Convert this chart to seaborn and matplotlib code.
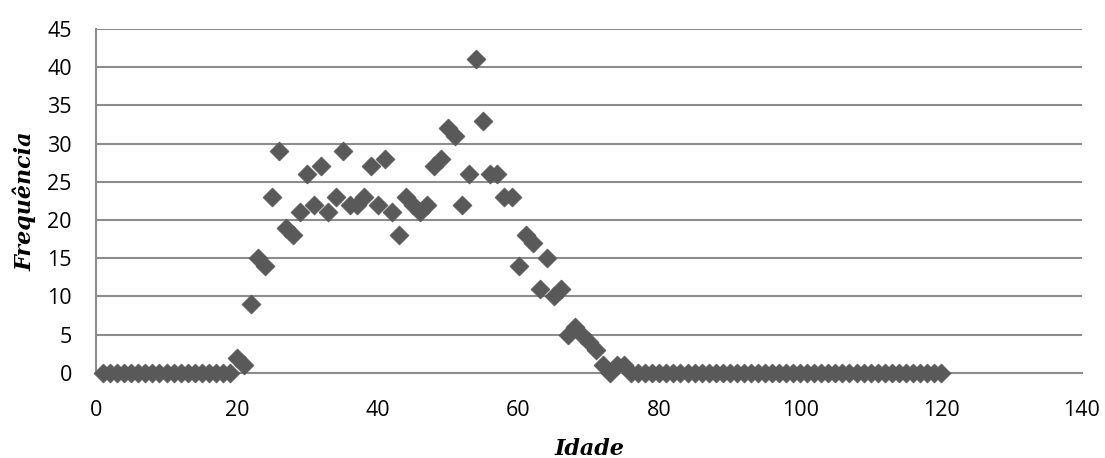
import numpy as np
import pandas as pd
import matplotlib
matplotlib.use("Agg")
import matplotlib.pyplot as plt
import seaborn as sns

# ages 1..120 and frequency
idade = list(range(1, 121))
freq_20_76 = [2, 1, 9, 15, 14, 23, 29, 19, 18, 21,
              26, 22, 27, 21, 23, 29, 22, 22, 23, 27,
              22, 28, 21, 18, 23, 22, 21, 22, 27, 28,
              32, 31, 22, 26, 41, 33, 26, 26, 23, 23,
              14, 18, 17, 11, 15, 10, 11, 5, 6, 5,
              4, 3, 1, 0, 1, 1]
frequencia = [0] * 19 + freq_20_76 + [0] * (120 - 19 - len(freq_20_76))

x_ticks = [0, 20, 40, 60, 80, 100, 120, 140]
y_ticks = [0, 5, 10, 15, 20, 25, 30, 35, 40, 45]

df = pd.DataFrame({"Idade": idade, "Frequência": frequencia})

sns.set_theme(style="white")
plt.rcParams["font.family"] = ["Open Sans", "DejaVu Sans"]

fig = plt.figure(figsize=(11.05, 4.58), dpi=100)
ax = fig.add_axes([0.087, 0.186, 0.892, 0.751])

sns.scatterplot(data=df, x="Idade", y="Frequência", marker="D", s=95,
                color="#595959", edgecolor="#595959", linewidth=0.4,
                ax=ax, zorder=3, clip_on=False)

ax.set_xlim(0, 140)
ax.set_ylim(0, 45)
ax.set_xticks(x_ticks)
ax.set_yticks(y_ticks)
ax.yaxis.grid(True, color="#8c8c8c", linewidth=1.5)
ax.xaxis.grid(False)
ax.set_axisbelow(True)

for side in ["top", "right"]:
    ax.spines[side].set_visible(False)
for side in ["left", "bottom"]:
    ax.spines[side].set_color("#8c8c8c")
    ax.spines[side].set_linewidth(1.5)
ax.tick_params(axis="both", direction="out", length=6.5, width=1.5,
               color="#8c8c8c", labelsize=15.5, labelcolor="black")
ax.tick_params(axis="y", pad=11)
ax.tick_params(axis="x", pad=13)

lab = dict(family="DejaVu Serif", fontstyle="italic", fontweight="bold",
           fontsize=16, color="black")
ax.set_xlabel("Idade", labelpad=12, **lab)
ax.set_ylabel("Frequência", labelpad=8, **lab)

fig.savefig("out.png", dpi=100)
